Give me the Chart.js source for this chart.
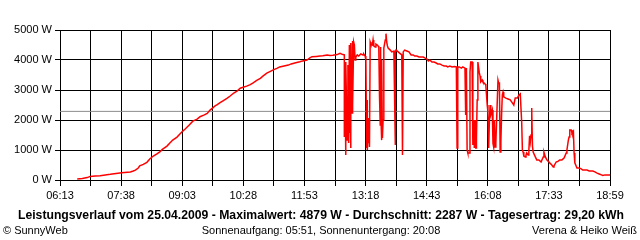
<!DOCTYPE html>
<html>
<head>
<meta charset="utf-8">
<script src="https://cdn.jsdelivr.net/npm/chart.js@4.4.1/dist/chart.umd.min.js"></script>
<style>
  html, body { margin: 0; padding: 0; background: #fff; }
  #wrap { position: relative; width: 640px; height: 240px; }
</style>
</head>
<body>
<div id="wrap"><canvas id="c" width="640" height="240"></canvas></div>
<script>
// Leistungsverlauf 25.04.2009
const tickLabels = ["06:13", "07:38", "09:03", "10:28", "11:53", "13:18", "14:43", "16:08", "17:33", "18:59"];

const times = [
  "06:37","06:44","06:51","06:55","07:02","07:09","07:16","07:23","07:31","07:39",
  "07:51","07:55","07:58","08:02","08:04","08:09","08:14","08:18","08:23","08:28",
  "08:32","08:36","08:42","08:46","08:50","08:56","09:00","09:04","09:07","09:13",
  "09:18","09:24","09:28","09:34","09:38","09:42","09:45","09:49","09:52","09:56",
  "10:00","10:06","10:10","10:15","10:20","10:24","10:28","10:33","10:38","10:42",
  "10:47","10:52","10:56","11:01","11:06","11:10","11:15","11:19","11:25","11:31",
  "11:35","11:40","11:47","11:51","11:57","12:01","12:04","12:10","12:15","12:19",
  "12:25","12:29","12:33","12:39","12:43","12:47",
  "12:49","12:49","12:50","12:51","12:51","12:53","12:54","12:55","12:56","12:56",
  "12:57","12:58","12:58","13:00","13:00","13:01","13:02","13:03","13:04","13:05",
  "13:07","13:09","13:12","13:15","13:16","13:18","13:19",
  "13:20","13:21","13:21","13:22","13:23","13:23","13:24","13:25","13:26","13:28",
  "13:29","13:30","13:32","13:33","13:35","13:36","13:37","13:38","13:39","13:39",
  "13:40","13:41","13:41","13:42","13:43","13:44","13:46","13:47","13:48","13:49",
  "13:50","13:53","13:55","13:58","14:00","14:00","14:01","14:04","14:06","14:09",
  "14:10","14:11","14:13","14:16","14:19","14:22","14:25","14:27","14:30","14:33",
  "14:36","14:39","14:41","14:44","14:46","14:48","14:51","14:54","14:57","14:59",
  "15:02","15:05","15:08","15:11","15:13","15:16","15:19","15:22","15:25","15:26",
  "15:27","15:29","15:32","15:34","15:37","15:38","15:39","15:40","15:41","15:43",
  "15:44","15:45","15:47","15:48","15:49","15:50","15:50","15:51","15:52","15:53",
  "15:53","15:54","15:55","15:57","15:58","15:59","16:01","16:02","16:05","16:06",
  "16:08","16:09","16:10","16:11","16:12","16:13","16:15","16:16","16:17","16:18",
  "16:19","16:20","16:23","16:24","16:25","16:26","16:27","16:28","16:29","16:30",
  "16:31","16:34","16:37","16:40","16:43","16:45","16:47","16:50","16:52","16:54",
  "16:56","16:57","16:58","16:59","17:01","17:02","17:03","17:05","17:06","17:07",
  "17:08","17:09","17:10","17:10","17:11","17:12","17:15","17:17","17:20","17:23",
  "17:26","17:27","17:29","17:31","17:34","17:35","17:38","17:40","17:41","17:44",
  "17:47","17:49","17:52","17:55","17:58","17:59","18:01","18:02","18:03","18:05",
  "18:06","18:08","18:09","18:10","18:13","18:16","18:19","18:21","18:24","18:27",
  "18:30","18:33","18:35","18:38","18:41","18:44","18:47","18:49","18:52","18:55",
  "18:59"
];

const watts = [
  30,50,80,120,130,140,170,190,220,240,
  270,300,330,400,470,520,590,700,800,870,
  940,1030,1130,1230,1330,1430,1530,1630,1690,1830,
  1960,2030,2110,2170,2220,2330,2390,2470,2510,2580,
  2640,2730,2800,2900,2970,3060,3090,3130,3180,3240,
  3320,3390,3470,3560,3620,3670,3720,3770,3800,3830,
  3870,3900,3940,3970,4000,4070,4110,4120,4130,4140,
  4170,4150,4160,4180,4220,4180,
  4170,1430,3070,830,3930,1330,3830,1230,4500,1570,
  2670,1070,4570,2230,4630,2500,4600,4500,4000,4100,
  4170,4130,4200,4170,4200,4130,4000,
  1070,2670,1000,1670,1230,2070,1100,4600,4530,4500,
  4670,4470,4430,4530,4500,4470,4430,2770,1830,4430,
  2400,1330,4000,1400,2000,4400,4670,4879,4600,4470,
  4400,4330,4270,4300,1170,4270,4330,4270,4230,4170,
  830,4270,4330,4300,4270,4170,4170,4130,4130,4100,
  4100,4100,4070,4030,3970,4000,3930,3930,3900,3870,
  3870,3830,3800,3800,3770,3800,3770,3780,3770,1070,
  3770,3770,3730,3770,3730,2170,3730,1000,900,900,
  3600,3930,3930,1170,2000,1070,1670,2000,1070,1070,
  1400,2670,3930,3570,3470,3270,3330,3270,3200,3170,
  2500,2270,1070,1930,2500,2170,2330,1230,1100,2000,
  1100,1230,3330,3230,3230,930,1270,2170,2830,2930,
  2770,2730,2700,2670,2570,2500,2730,2730,2830,2870,
  1930,1000,930,800,770,830,900,830,1000,1470,
  1270,1500,2400,2330,1130,930,770,670,670,600,
  770,930,770,670,600,570,500,430,470,600,
  630,670,670,730,900,1000,1330,1430,1670,1670,
  1570,1630,900,570,400,400,370,330,330,330,
  300,300,300,270,230,200,170,150,170,170,
  170
];

const averageW = 2287;
const yTicks = [0, 1000, 2000, 3000, 4000, 5000];

const titleText = "Leistungsverlauf vom 25.04.2009 - Maximalwert: 4879 W - Durchschnitt: 2287 W - Tagesertrag: 29,20 kWh";
const footLeft = "\u00A9 SunnyWeb";
const footMid = "Sonnenaufgang: 05:51, Sonnenuntergang: 20:08";
const footRight = "Verena & Heiko Wei\u00DF";

function toMin(s) {
  const p = s.split(":");
  return +p[0] * 60 + +p[1];
}

const tStart = toMin(tickLabels[0]);
const tEnd = toMin(tickLabels[tickLabels.length - 1]);
const gridStep = (tEnd - tStart) / ((tickLabels.length - 1) * 2);

const FONT = "'Liberation Sans', Arial, sans-serif";

// Titel + Fusszeile unter dem Diagramm
const bottomText = {
  id: "bottomText",
  afterDraw(chart) {
    const ctx = chart.ctx;
    ctx.save();
    ctx.fillStyle = "#000";
    ctx.textBaseline = "middle";
    ctx.font = "bold 12.2px " + FONT;
    ctx.textAlign = "center";
    ctx.fillText(titleText, 321, 216);
    ctx.font = "11px " + FONT;
    ctx.textAlign = "left";
    ctx.fillText(footLeft, 3, 231);
    ctx.textAlign = "center";
    ctx.fillText(footMid, 321, 231);
    ctx.textAlign = "right";
    ctx.fillText(footRight, 637, 231);
    ctx.restore();
  }
};

new Chart(document.getElementById("c"), {
  type: "line",
  plugins: [bottomText],
  data: {
    datasets: [
      {
        data: times.map((t, i) => ({ x: toMin(t), y: watts[i] })),
        borderColor: "#ff0000",
        borderWidth: 1.5,
        pointRadius: 0,
        tension: 0,
        order: 1
      },
      {
        data: [{ x: tStart, y: averageW }, { x: tEnd, y: averageW }],
        borderColor: "#8c8c8c",
        borderWidth: 1,
        pointRadius: 0,
        order: 2
      }
    ]
  },
  options: {
    responsive: false,
    devicePixelRatio: 1,
    animation: false,
    layout: { padding: { left: 0, right: 30, top: 30, bottom: 0 } },
    plugins: { legend: { display: false }, tooltip: { enabled: false } },
    scales: {
      x: {
        type: "linear",
        min: tStart,
        max: tEnd,
        afterFit(s) { s.height = 60; },
        afterBuildTicks(s) {
          const arr = [];
          for (let k = 0; k <= (tickLabels.length - 1) * 2; k++) arr.push({ value: tStart + k * gridStep });
          s.ticks = arr;
        },
        grid: { color: "#000", lineWidth: 1, tickLength: 6, drawTicks: true },
        border: { color: "#000" },
        ticks: {
          autoSkip: false,
          maxRotation: 0,
          padding: 3,
          color: "#000",
          font: { family: FONT, size: 11 },
          callback(v, i) { return i % 2 === 0 ? tickLabels[i / 2] : ""; }
        }
      },
      y: {
        min: yTicks[0],
        max: yTicks[yTicks.length - 1],
        afterFit(s) { s.width = 60; },
        afterBuildTicks(s) { s.ticks = yTicks.map(v => ({ value: v })); },
        grid: { color: "#000", lineWidth: 1, tickLength: 5 },
        border: { color: "#000" },
        ticks: {
          padding: 3,
          color: "#000",
          font: { family: FONT, size: 11 },
          callback(v) { return v + " W"; }
        }
      }
    }
  }
});
</script>
</body>
</html>
